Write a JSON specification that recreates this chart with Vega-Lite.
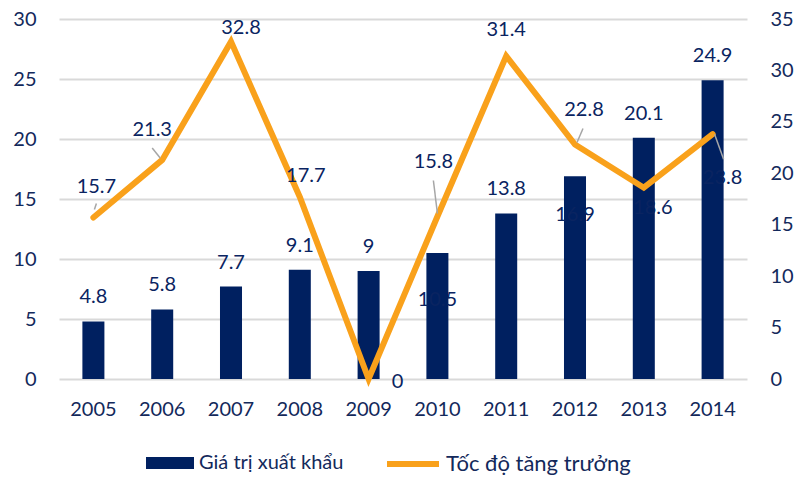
{
  "$schema": "https://vega.github.io/schema/vega-lite/v6.json",
  "width": 688,
  "height": 360,
  "autosize": "none",
  "padding": {"left": 59, "top": 19, "right": 62, "bottom": 99},
  "background": "white",
  "config": {
    "font": "Lato",
    "view": {"stroke": null},
    "text": {"font": "Lato", "fontSize": 20, "color": "#0a2461"},
    "axis": {"labelFont": "Lato", "labelFontSize": 20, "labelColor": "#13295b"}
  },
  "data": {
    "values": [
      {"year": "2005", "value": 4.8, "growth": 15.7},
      {"year": "2006", "value": 5.8, "growth": 21.3},
      {"year": "2007", "value": 7.7, "growth": 32.8},
      {"year": "2008", "value": 9.1, "growth": 17.7},
      {"year": "2009", "value": 9, "growth": 0},
      {"year": "2010", "value": 10.5, "growth": 15.8},
      {"year": "2011", "value": 13.8, "growth": 31.4},
      {"year": "2012", "value": 16.9, "growth": 22.8},
      {"year": "2013", "value": 20.1, "growth": 18.6},
      {"year": "2014", "value": 24.9, "growth": 23.8}
    ]
  },
  "encoding": {
    "x": {
      "field": "year", "type": "nominal",
      "scale": {"paddingInner": 0.68, "paddingOuter": 0.34},
      "axis": {"title": null, "labelAngle": 0, "domain": false, "ticks": false, "labelPadding": 20, "grid": false}
    }
  },
  "layer": [
    {
      "encoding": {
        "y": {
          "field": "value", "type": "quantitative",
          "scale": {"domain": [0, 30], "nice": false},
          "axis": {"title": null, "orient": "left", "values": [0, 5, 10, 15, 20, 25, 30], "domain": false, "ticks": false, "labelPadding": 23, "grid": true, "gridColor": "#d9d9d9", "gridWidth": 2}
        }
      },
      "layer": [
        {
          "mark": {"type": "bar", "color": "#002060"},
          "encoding": {
            "fill": {"datum": "Giá trị xuất khẩu", "type": "nominal", "scale": {"range": ["#002060"]},
              "legend": {"title": null, "orient": "none", "legendX": 87, "legendY": 420, "padding": 0,
                "symbolType": "M-1,-0.25H1V0.25H-1Z", "symbolSize": 2304, "symbolStrokeWidth": 0,
                "labelFont": "Lato", "labelFontSize": 20, "labelColor": "#13295b", "labelOffset": 5, "labelLimit": 0}}
          }
        },
        {
          "transform": [{"filter": "datum.year != '2010' && datum.year != '2012'"}],
          "mark": {"type": "text", "dy": -24, "baseline": "middle"},
          "encoding": {"text": {"field": "value", "type": "quantitative"}}
        },
        {
          "transform": [{"filter": "datum.year == '2010'"}],
          "mark": {"type": "text", "dy": 47, "baseline": "middle"},
          "encoding": {"text": {"field": "value", "type": "quantitative"}}
        },
        {
          "transform": [{"filter": "datum.year == '2012'"}],
          "mark": {"type": "text", "dy": 39, "baseline": "middle"},
          "encoding": {"text": {"field": "value", "type": "quantitative"}}
        }
      ]
    },
    {
      "encoding": {
        "y": {
          "field": "growth", "type": "quantitative",
          "scale": {"domain": [0, 35], "nice": false},
          "axis": {"title": null, "orient": "right", "values": [0, 5, 10, 15, 20, 25, 30, 35], "domain": false, "ticks": false, "labelPadding": 23, "grid": false}
        }
      },
      "layer": [
        {
          "mark": {"type": "line", "strokeWidth": 6, "color": "#f9a11b", "strokeJoin": "miter", "strokeCap": "round"},
          "encoding": {
            "stroke": {"datum": "Tốc độ tăng trưởng", "type": "nominal", "scale": {"range": ["#f9a11b"]},
              "legend": {"title": null, "orient": "none", "legendX": 325, "legendY": 416, "padding": 0,
                "symbolType": "stroke", "symbolSize": 2704, "symbolStrokeWidth": 6,
                "labelFont": "Lato", "labelFontSize": 22, "labelColor": "#13295b", "labelOffset": 4, "labelLimit": 0}}
          }
        },
        {"transform": [{"filter": "datum.year == '2005'"}], "mark": {"type": "rule", "color": "#a6a6a6", "strokeWidth": 1.5, "xOffset": 1, "yOffset": -8, "x2Offset": 3, "y2Offset": -14}, "encoding": {"y": {"field": "growth", "type": "quantitative"}, "x2": {"field": "year"}, "y2": {"field": "growth"}}},
        {"transform": [{"filter": "datum.year == '2006'"}], "mark": {"type": "rule", "color": "#a6a6a6", "strokeWidth": 1.5, "xOffset": -2, "yOffset": -2, "x2Offset": -10, "y2Offset": -12}, "encoding": {"y": {"field": "growth", "type": "quantitative"}, "x2": {"field": "year"}, "y2": {"field": "growth"}}},
        {"transform": [{"filter": "datum.year == '2010'"}], "mark": {"type": "rule", "color": "#a6a6a6", "strokeWidth": 1.5, "xOffset": 0, "yOffset": -3, "x2Offset": -4, "y2Offset": -36}, "encoding": {"y": {"field": "growth", "type": "quantitative"}, "x2": {"field": "year"}, "y2": {"field": "growth"}}},
        {"transform": [{"filter": "datum.year == '2012'"}], "mark": {"type": "rule", "color": "#a6a6a6", "strokeWidth": 1.5, "xOffset": 2, "yOffset": -2, "x2Offset": 8, "y2Offset": -16}, "encoding": {"y": {"field": "growth", "type": "quantitative"}, "x2": {"field": "year"}, "y2": {"field": "growth"}}},
        {"transform": [{"filter": "datum.year == '2014'"}], "mark": {"type": "rule", "color": "#a6a6a6", "strokeWidth": 1.5, "xOffset": 2, "yOffset": 0, "x2Offset": 11, "y2Offset": 25}, "encoding": {"y": {"field": "growth", "type": "quantitative"}, "x2": {"field": "year"}, "y2": {"field": "growth"}}},
        {"transform": [{"filter": "datum.year == '2005'"}], "mark": {"type": "text", "dx": 3, "dy": -31, "baseline": "middle"}, "encoding": {"text": {"field": "growth", "type": "quantitative"}}},
        {"transform": [{"filter": "datum.year == '2006'"}], "mark": {"type": "text", "dx": -10, "dy": -30, "baseline": "middle"}, "encoding": {"text": {"field": "growth", "type": "quantitative"}}},
        {"transform": [{"filter": "datum.year == '2007'"}], "mark": {"type": "text", "dx": 10, "dy": -14, "baseline": "middle"}, "encoding": {"text": {"field": "growth", "type": "quantitative"}}},
        {"transform": [{"filter": "datum.year == '2008'"}], "mark": {"type": "text", "dx": 6, "dy": -21, "baseline": "middle"}, "encoding": {"text": {"field": "growth", "type": "quantitative"}}},
        {"transform": [{"filter": "datum.year == '2009'"}], "mark": {"type": "text", "dx": 29, "dy": 3, "baseline": "middle"}, "encoding": {"text": {"field": "growth", "type": "quantitative"}}},
        {"transform": [{"filter": "datum.year == '2010'"}], "mark": {"type": "text", "dx": -4, "dy": -54, "baseline": "middle"}, "encoding": {"text": {"field": "growth", "type": "quantitative"}}},
        {"transform": [{"filter": "datum.year == '2011'"}], "mark": {"type": "text", "dx": 0, "dy": -26, "baseline": "middle"}, "encoding": {"text": {"field": "growth", "type": "quantitative"}}},
        {"transform": [{"filter": "datum.year == '2012'"}], "mark": {"type": "text", "dx": 9, "dy": -34, "baseline": "middle"}, "encoding": {"text": {"field": "growth", "type": "quantitative"}}},
        {"transform": [{"filter": "datum.year == '2013'"}], "mark": {"type": "text", "dx": 9, "dy": 20, "baseline": "middle"}, "encoding": {"text": {"field": "growth", "type": "quantitative"}}},
        {"transform": [{"filter": "datum.year == '2014'"}], "mark": {"type": "text", "dx": 10, "dy": 44, "baseline": "middle"}, "encoding": {"text": {"field": "growth", "type": "quantitative"}}}
      ]
    }
  ],
  "resolve": {"scale": {"y": "independent"}}
}
